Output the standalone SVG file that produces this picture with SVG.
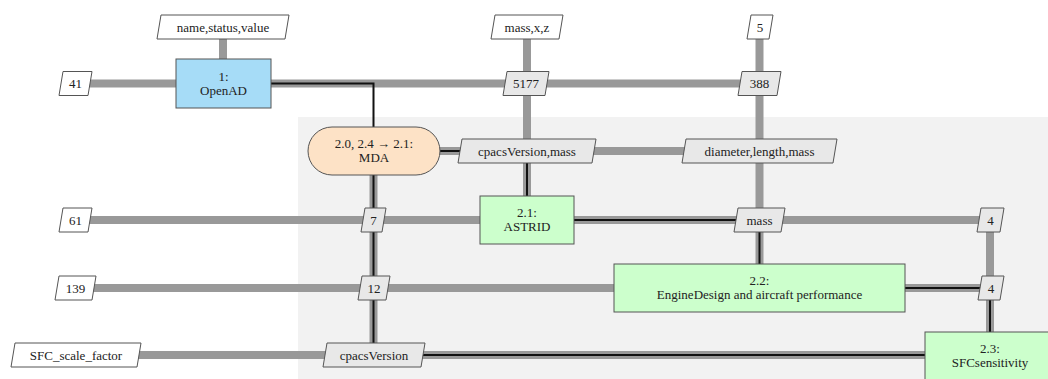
<svg xmlns="http://www.w3.org/2000/svg" width="1048" height="379" viewBox="0 0 1048 379" font-family="'Liberation Serif', 'DejaVu Serif', 'Times New Roman', serif">
<style>
text{font-family:'Liberation Serif','DejaVu Serif','Times New Roman',serif;font-size:13px;fill:#222;text-anchor:middle}
.data{stroke:#999;stroke-width:8;fill:none}
.proc{stroke:#111;stroke-width:2;fill:none}
.inp{fill:#fff;stroke:#555;stroke-width:1}
.int{fill:#e8e8e8;stroke:#555;stroke-width:1}
.fn{fill:#ccffcc;stroke:#555;stroke-width:1}
</style>
<rect x="0" y="0" width="1048" height="379" fill="#fff"/>
<rect x="298" y="117" width="760" height="270" fill="#f2f2f2"/>
<g id="connectors">
<path class="data" d="M75,83.5H759.5"/>
<path class="data" d="M223,39V59"/>
<path class="data" d="M527,27V220"/>
<path class="data" d="M759.5,27V288"/>
<path class="data" d="M374,151H760"/>
<path class="data" d="M75,220H990"/>
<path class="data" d="M990,220V355"/>
<path class="data" d="M75,288H990"/>
<path class="data" d="M76,355H990"/>
<path class="data" d="M373.5,151V355"/>
<path class="proc" d="M271,83.5H373.5V127"/>
<path class="proc" d="M440,151H527V196"/>
<path class="proc" d="M574,220H759.5V264"/>
<path class="proc" d="M905,288H990V332"/>
<path class="proc" d="M925,355H373.5V175"/>
</g>
<g id="in_name_status_value"><polygon class="inp" points="161,15 289,15 285,39 157,39"/><text x="223" y="31.5">name,status,value</text></g>
<g id="in_mass_x_z"><polygon class="inp" points="495,15 563,15 559,39 491,39"/><text x="527" y="31.5">mass,x,z</text></g>
<g id="in_5"><polygon class="inp" points="751,15 773,15 769,39 747,39"/><text x="760" y="31.5">5</text></g>
<g id="in_41"><polygon class="inp" points="63,71.5 92,71.5 88,95.5 59,95.5"/><text x="75.5" y="88">41</text></g>
<g id="in_61"><polygon class="inp" points="63,208 92,208 88,232 59,232"/><text x="75.5" y="224.5">61</text></g>
<g id="in_139"><polygon class="inp" points="59,276 96,276 92,300 55,300"/><text x="75.5" y="292.5">139</text></g>
<g id="in_sfc"><polygon class="inp" points="15,343 141,343 137,367 11,367"/><text x="76" y="359.5">SFC_scale_factor</text></g>
<g id="d_5177"><polygon class="int" points="507,71.5 549,71.5 545,95.5 503,95.5"/><text x="526" y="88">5177</text></g>
<g id="d_388"><polygon class="int" points="742,71.5 781,71.5 777,95.5 738,95.5"/><text x="759.5" y="88">388</text></g>
<g id="d_cpacs_mass"><polygon class="int" points="462,139 596,139 592,163 458,163"/><text x="527" y="155.5">cpacsVersion,mass</text></g>
<g id="d_dlm"><polygon class="int" points="686,139 837,139 833,163 682,163"/><text x="759.5" y="155.5">diameter,length,mass</text></g>
<g id="d_7"><polygon class="int" points="365,208 386,208 382,232 361,232"/><text x="373.5" y="224.5">7</text></g>
<g id="d_mass"><polygon class="int" points="738,208 785,208 781,232 734,232"/><text x="759.5" y="224.5">mass</text></g>
<g id="d_4a"><polygon class="int" points="981,208 1004,208 1000,232 977,232"/><text x="990.5" y="224.5">4</text></g>
<g id="d_12"><polygon class="int" points="362,276 390,276 386,300 358,300"/><text x="374" y="292.5">12</text></g>
<g id="d_4b"><polygon class="int" points="982,276 1004,276 1000,300 978,300"/><text x="991" y="292.5">4</text></g>
<g id="d_cpacs"><polygon class="int" points="327,343 425,343 421,367 323,367"/><text x="374" y="359.5">cpacsVersion</text></g>
<g id="n_openad"><rect x="176" y="59" width="95" height="49" fill="#a6dcf7" stroke="#555"/><text x="223.5" y="81">1:</text><text x="223.5" y="95">OpenAD</text></g>
<g id="n_mda"><rect x="308" y="127" width="132" height="48" rx="24" ry="24" fill="#fde2c6" stroke="#555"/><text x="374" y="148">2.0, 2.4 → 2.1:</text><text x="374" y="162">MDA</text></g>
<g id="n_astrid"><rect x="480" y="196" width="94" height="48" class="fn"/><text x="527" y="217">2.1:</text><text x="527" y="231">ASTRID</text></g>
<g id="n_engine"><rect x="614" y="264" width="291" height="48" class="fn"/><text x="759.5" y="285">2.2:</text><text x="759.5" y="299">EngineDesign and aircraft performance</text></g>
<g id="n_sfc"><rect x="925" y="332" width="130" height="48" class="fn"/><text x="990" y="353">2.3:</text><text x="990" y="367">SFCsensitivity</text></g>
</svg>
